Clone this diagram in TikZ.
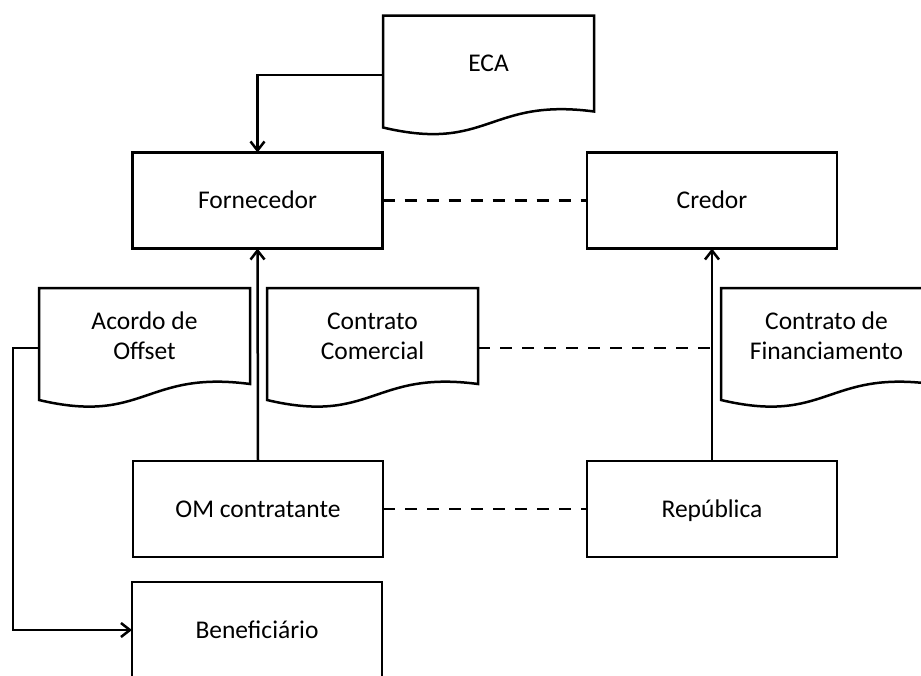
\documentclass[tikz,border=0pt]{standalone}
\usepackage{fontspec}
\setmainfont{Carlito}
\usetikzlibrary{arrows.meta,calc}
\tikzset{
  base/.style={line width=2.5pt, line join=miter},
  boxnode/.style={base, draw, rectangle, minimum width=250pt, minimum height=96pt,
    inner sep=0pt, outer sep=0pt, font=\fontsize{25.5}{30}\selectfont,
    text height=20pt, text depth=4pt},
  docnode/.style={rectangle, minimum width=211pt, minimum height=96pt,
    inner sep=0pt, outer sep=0pt, font=\fontsize{25.5}{30}\selectfont, align=center},
  conn/.style={base, -{Straight Barb[length=9pt,width=14pt,line width=2.5pt]}},
  dashconn/.style={base, dash pattern=on 12pt off 10pt},
}
\newcommand\docoutline[1]{%
  \draw[base] (#1.north west) -- (#1.north east) -- (#1.south east)
    .. controls ($(#1.south)+(0,14pt)$) and ($(#1.south)+(0,-41pt)$) ..
    ($(#1.south west)+(0,-16pt)$) -- cycle;}
\begin{document}
\begin{tikzpicture}[x=1pt,y=-1pt]
\clip (0,0) rectangle (921,675);
\fill[white] (0,0) rectangle (921,675);
% boxes
\node[boxnode] (forn) at (257.5,200.5) {Fornecedor};
\node[boxnode] (cred) at (712,200.5) {Credor};
\node[boxnode] (om) at (258,509) {OM contratante};
\node[boxnode] (rep) at (712,509) {República};
\node[boxnode] (ben) at (257,630) {Beneficiário};
% documents
\node[docnode] (eca) at (488.5,63.5) {ECA};
\node[docnode] (aco) at (144.5,336) {Acordo de\\Offset};
\node[docnode] (com) at (372.5,336) {Contrato\\Comercial};
\node[docnode] (fin) at (826.5,336) {Contrato de\\Financiamento};
\docoutline{eca}
\docoutline{aco}
\docoutline{com}
\docoutline{fin}
% attachment points
\coordinate (ecal) at ($(eca.west)+(0,-11.5pt)$);
\coordinate (acol) at ($(aco.west)+(0,-12pt)$);
\coordinate (comr) at ($(com.east)+(0,-12pt)$);
\coordinate (finl) at ($(fin.west)+(0,-12pt)$);
\coordinate (bend) at (13,348);
% connectors
\draw[conn] (ecal) -| (forn.north);
\draw[conn] (om.north) -- (forn.south);
\draw[conn] (rep.north) -- (cred.south);
\draw[conn] (acol) -- (bend) |- (ben.west);
\draw[dashconn] (forn.east) -- (cred.west);
\draw[dashconn] (comr) -- (finl);
\draw[dashconn] (om.east) -- (rep.west);
\end{tikzpicture}
\end{document}
